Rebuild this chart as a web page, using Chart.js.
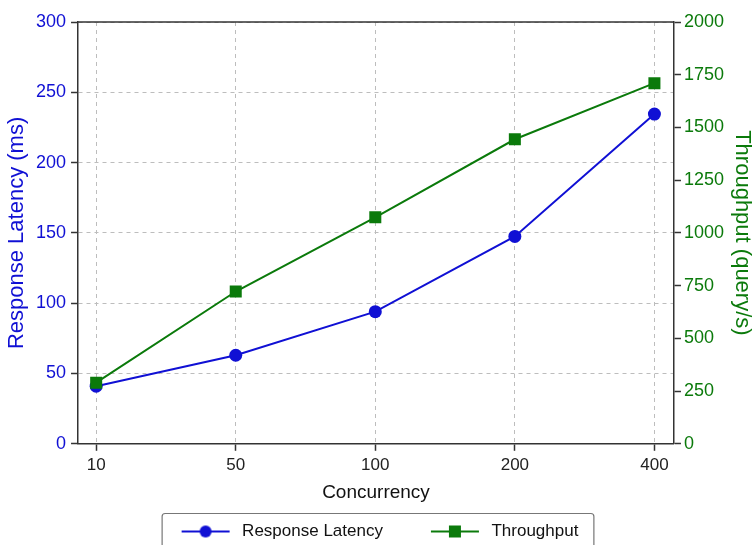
<!DOCTYPE html>
<html lang="en">
<head>
  <meta charset="UTF-8">
  <title>Concurrency: Latency and Throughput</title>
  <script src="https://cdn.jsdelivr.net/npm/chart.js"></script>
  <style>
    html, body {
      margin: 0;
      padding: 0;
      background: #fff;
      overflow: hidden;
    }
    canvas { display: block; }
  </style>
</head>
<body>
  <canvas id="grafico" width="754" height="550"></canvas>

  <script>
    // data
    const concurrency = ['10', '50', '100', '200', '400'];
    const latency = [41, 63, 94, 147.5, 234.5];        // ms, left axis
    const throughput = [290, 722, 1074, 1444, 1710];   // query/s, right axis
    const latencyTicks = [0, 50, 100, 150, 200, 250, 300];
    const throughputTicks = [0, 250, 500, 750, 1000, 1250, 1500, 1750, 2000];

    const BLUE = '#1010d4';
    const GREEN = '#0b7a0b';
    const AXIS = '#333';
    const FONT = "'Liberation Sans', Arial, sans-serif";

    // legend icon: line with marker, sitting in the right part of the box
    const ICON_W = 84, ICON_OFF = 32;
    function legendIcon(color, shape) {
      const c = document.createElement('canvas');
      c.width = ICON_W; c.height = 16;
      const g = c.getContext('2d');
      g.strokeStyle = color;
      g.lineWidth = 2;
      g.beginPath(); g.moveTo(ICON_OFF, 8); g.lineTo(ICON_OFF + 48, 8); g.stroke();
      g.fillStyle = color;
      if (shape === 'circle') {
        g.beginPath(); g.arc(ICON_OFF + 24, 8, 6, 0, Math.PI * 2); g.fill();
      } else {
        g.fillRect(ICON_OFF + 18, 2, 12, 12);
      }
      return c;
    }

    // top edge of the frame + box around the legend
    const frame = {
      id: 'frame',
      afterLayout(chart) {
        // nudge the legend a bit to the left, like the original
        chart.legend.left -= 13;
        chart.legend.right -= 13;
      },
      afterDraw(chart) {
        const { ctx, chartArea } = chart;
        ctx.save();
        ctx.strokeStyle = AXIS;
        ctx.lineWidth = 1.5;
        ctx.beginPath();
        ctx.moveTo(chartArea.left, chartArea.top);
        ctx.lineTo(chartArea.right, chartArea.top);
        ctx.stroke();

        const hb = chart.legend.legendHitBoxes;
        if (hb && hb.length) {
          const last = hb[hb.length - 1];
          const left = hb[0].left + ICON_OFF - 20;
          const right = last.left + last.width + 15;
          const top = hb[0].top - 10;
          ctx.strokeStyle = '#777';
          ctx.lineWidth = 1.2;
          ctx.beginPath();
          ctx.roundRect(left + 0.5, top + 0.5, right - left, 40, 3);
          ctx.stroke();
        }
        ctx.restore();
      }
    };

    const points = arr => arr.map((v, i) => ({ x: i, y: v }));

    const ctx = document.getElementById('grafico').getContext('2d');
    new Chart(ctx, {
      type: 'line',
      data: {
        datasets: [{
          label: 'Response Latency',
          data: points(latency),
          yAxisID: 'y',
          borderColor: BLUE,
          backgroundColor: BLUE,
          borderWidth: 2,
          pointStyle: 'circle',
          pointRadius: 6.5,
          pointBorderWidth: 0,
          order: 1
        }, {
          label: 'Throughput',
          data: points(throughput),
          yAxisID: 'y1',
          borderColor: GREEN,
          backgroundColor: GREEN,
          borderWidth: 2,
          pointStyle: 'rect',
          pointRadius: 8.5,
          pointBorderWidth: 0,
          order: 0
        }]
      },
      options: {
        responsive: false,
        animation: false,
        layout: { padding: { top: 22, left: 0, right: 0, bottom: 0 } },
        scales: {
          x: {
            type: 'linear',
            min: -0.13,
            max: 4.14,
            ticks: {
              stepSize: 1,
              includeBounds: false,
              color: '#222',
              font: { family: FONT, size: 17 },
              padding: 4,
              callback: v => concurrency[v] ?? ''
            },
            grid: { color: '#bdbdbd', tickColor: AXIS, tickLength: 7, tickWidth: 1.5 },
            border: { color: AXIS, width: 1.5, dash: [4, 4] },
            title: {
              display: true,
              text: 'Concurrency',
              color: '#111',
              font: { family: FONT, size: 19 },
              padding: { top: 2, bottom: 3 }
            }
          },
          y: {
            position: 'left',
            min: latencyTicks[0],
            max: latencyTicks[latencyTicks.length - 1],
            ticks: {
              stepSize: latencyTicks[1] - latencyTicks[0],
              color: BLUE,
              font: { family: FONT, size: 18 },
              padding: 5
            },
            grid: { color: '#bdbdbd', tickColor: AXIS, tickLength: 7, tickWidth: 1.5 },
            border: { color: AXIS, width: 1.5, dash: [4, 4] },
            title: {
              display: true,
              text: 'Response Latency (ms)',
              color: BLUE,
              font: { family: FONT, size: 22, lineHeight: 1 },
              padding: { top: 6, bottom: 3 }
            }
          },
          y1: {
            position: 'right',
            min: throughputTicks[0],
            max: throughputTicks[throughputTicks.length - 1],
            ticks: {
              stepSize: throughputTicks[1] - throughputTicks[0],
              color: GREEN,
              font: { family: FONT, size: 18 },
              padding: 3,
              callback: v => String(v)
            },
            grid: { drawOnChartArea: false, tickColor: AXIS, tickLength: 7, tickWidth: 1.5 },
            border: { color: AXIS, width: 1.5 },
            title: {
              display: true,
              text: 'Throughput (query/s)',
              color: GREEN,
              font: { family: FONT, size: 22, lineHeight: 1 },
              padding: { top: 1, bottom: 4 }
            }
          }
        },
        plugins: {
          tooltip: { enabled: false },
          legend: {
            position: 'bottom',
            labels: {
              usePointStyle: true,
              pointStyleWidth: ICON_W,
              color: '#111',
              font: { family: FONT, size: 17 },
              padding: 16,
              generateLabels: chart => chart.data.datasets.map((ds, i) => ({
                text: ds.label,
                datasetIndex: i,
                pointStyle: legendIcon(ds.borderColor, ds.pointStyle),
                fontColor: '#111',
                fillStyle: ds.borderColor,
                strokeStyle: ds.borderColor,
                lineWidth: 0,
                hidden: false
              }))
            }
          }
        }
      },
      plugins: [frame]
    });
  </script>
</body>
</html>
